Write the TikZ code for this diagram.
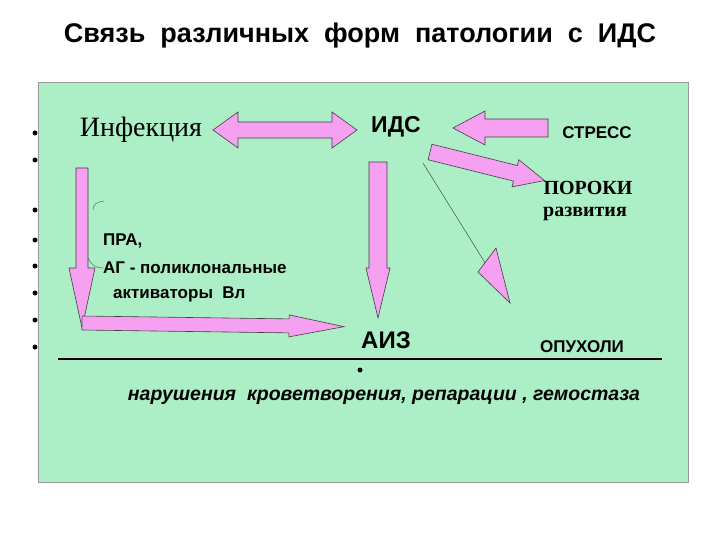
\documentclass[tikz,border=0pt]{standalone}
\usepackage{fontspec}
\setmainfont{Liberation Serif}
\setsansfont{Liberation Sans}
\definecolor{arrpink}{RGB}{245,160,240}
\definecolor{bggreen}{RGB}{172,238,197}
\tikzset{fat/.style={fill=arrpink, draw=black!75, line width=0.6pt},
 lbl/.style={font=\sffamily\bfseries, inner sep=0pt},
 bul/.style={circle, fill=black, inner sep=0pt, minimum size=5pt}}
% \fatarr{x}{y}{length}{angle}{shaft half}{head half}{head len}
\newcommand{\fatarr}[7]{\draw[fat, shift={(#1,#2)}, rotate=#4] (0,-#5)--(#3-#7,-#5)--(#3-#7,-#6)--(#3,0)--(#3-#7,#6)--(#3-#7,#5)--(0,#5)--cycle;}
\begin{document}
\begin{tikzpicture}[x=1pt,y=-1pt]
\useasboundingbox (0,0) rectangle (720,540);
\fill[white] (0,0) rectangle (720,540);
\draw[fill=bggreen, draw=black!40] (38,82) rectangle (688,482);
\node[lbl, font=\sffamily\bfseries\fontsize{27}{30}\selectfont] (title) at (360,36) {Связь \ различных \ форм \ патологии \ с \ ИДС};
% double arrow
\draw[fat] (213,130)--(238,112)--(238,122)--(332,122)--(332,112)--(357,130)--(332,148)--(332,138)--(238,138)--(238,148)--cycle;
\fatarr{548}{128}{95}{180}{9}{17}{32}
\fatarr{430}{152}{118}{-14}{8}{14}{30}
\fatarr{378}{162}{156}{-90}{9}{12}{50}
\fatarr{82}{168}{160}{-90}{6}{13}{60}
\fatarr{82}{323}{262}{-0.8}{7}{11}{55}
\draw[black!80] (423,163) -- (510,303);
\draw[fat] (510,303)--(478,272)--(496,248)--cycle;
\draw[black!70] (93,210) .. controls (93,204) and (97,202) .. (104,201);
\draw[black!70] (88,258) .. controls (92,266) and (96,268) .. (104,268);
% bullets
\foreach \y/\n in {133/a,160/b,210/c,240/d,266/e,293/f,320/g,347/h} \node[bul] (b\n) at (35,\y) {};
\node[bul] (bz) at (360,370) {};
\node[inner sep=0pt, font=\fontsize{28}{32}\selectfont] (inf) at (141,130) {Инфекция};
\node[lbl, font=\sffamily\bfseries\fontsize{23}{26}\selectfont] (ids) at (396,127) {ИДС};
\node[lbl, font=\sffamily\bfseries\fontsize{17}{20}\selectfont] (str) at (597,133) {СТРЕСС};
\node[inner sep=0pt, font=\bfseries\fontsize{20}{22}\selectfont] (por) at (588,188) {ПОРОКИ};
\node[inner sep=0pt, font=\bfseries\fontsize{20}{22}\selectfont] (raz) at (585,214) {развития};
\node[lbl, anchor=west, font=\sffamily\bfseries\fontsize{17}{20}\selectfont] (pra) at (103,241) {ПРА,};
\node[lbl, anchor=west, font=\sffamily\bfseries\fontsize{17}{20}\selectfont] (ag) at (103,268) {АГ - поликлональные};
\node[lbl, anchor=west, font=\sffamily\bfseries\fontsize{17}{20}\selectfont] (akt) at (113,294) {активаторы \ Вл};
\node[lbl, font=\sffamily\bfseries\fontsize{24}{28}\selectfont] (aiz) at (386,340) {АИЗ};
\node[lbl, font=\sffamily\bfseries\fontsize{17}{20}\selectfont] (op) at (582,347) {ОПУХОЛИ};
\draw[line width=2pt] (58,359) -- (662,359);
\node[lbl, font=\sffamily\bfseries\itshape\fontsize{19.5}{22}\selectfont] (nar) at (384,397) {нарушения \ кроветворения, репарации , гемостаза};
\end{tikzpicture}
\end{document}
